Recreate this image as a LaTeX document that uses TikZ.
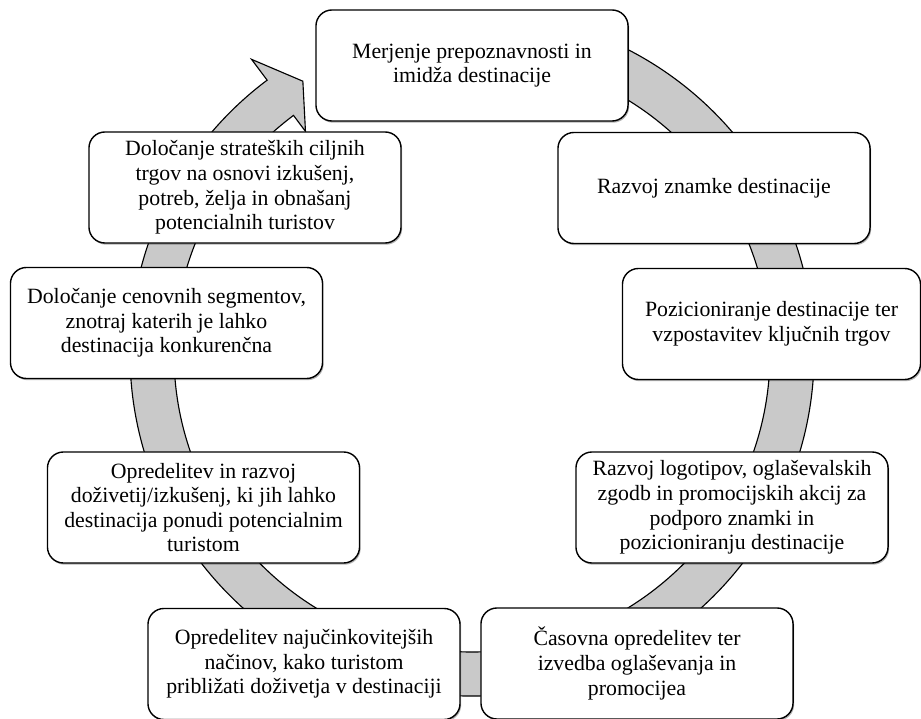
\documentclass[tikz,border=0pt]{standalone}
\usepackage{fontspec}
\setmainfont{Liberation Serif}
\usetikzlibrary{shadows}

\tikzset{
  stage/.style={draw=black, line width=1pt, fill=white, rounded corners=0.4cm,
    minimum width=7.8cm, minimum height=2.775cm, align=center, inner sep=2pt,
    font=\fontsize{15.5}{17.5}\selectfont,
    drop shadow={shadow xshift=0.8pt, shadow yshift=-1.2pt, fill=black, opacity=0.3}},
  ring/.style={draw=black, line width=0.8pt, fill=black!21}
}

\begin{document}
\begin{tikzpicture}[x=0.025cm, y=0.025cm]
  \useasboundingbox (0,0) rectangle (921,718);

  % cycle arrow behind the boxes
  \coordinate (c) at (472,364);
  \draw[ring] ([shift={(100:342)}]c) arc[start angle=100, end angle=-233.2, radius=342]
    -- ([shift={(126.8:368)}]c) -- ([shift={(121.8:321)}]c) -- ([shift={(126.8:278)}]c)
    -- ([shift={(126.8:298)}]c) arc[start angle=-233.2, end angle=100, radius=298] -- cycle;

  % stages, clockwise from the top
  \node (measure) at (472,652.5) [stage] {Merjenje prepoznavnosti in\\ imidža destinacije};
  \node (brand) at (714,530) [stage] {Razvoj znamke destinacije};
  \node (position) at (771.5,394) [stage, minimum width=7.45cm] {Pozicioniranje destinacije ter\\ vzpostavitev ključnih trgov};
  \node (logos) at (732,210.5) [stage] {Razvoj logotipov, oglaševalskih\\ zgodb in promocijskih akcij za\\ podporo znamki in\\ pozicioniranju destinacije};
  \node (timing) at (637,54.5) [stage] {Časovna opredelitev ter\\ izvedba oglaševanja in\\ promocijea};
  \node (channels) at (304,54) [stage] {Opredelitev najučinkovitejših\\ načinov, kako turistom\\ približati doživetja v destinaciji};
  \node (experience) at (203.5,210.5) [stage] {Opredelitev in razvoj\\ doživetij/izkušenj, ki jih lahko\\ destinacija ponudi potencialnim\\ turistom};
  \node (prices) at (166.5,395) [stage] {Določanje cenovnih segmentov,\\ znotraj katerih je lahko\\ destinacija konkurenčna};
  \node (targets) at (245,530.5) [stage] {Določanje strateških ciljnih\\ trgov na osnovi izkušenj,\\ potreb, želja in obnašanj\\ potencialnih turistov};

\end{tikzpicture}
\end{document}
